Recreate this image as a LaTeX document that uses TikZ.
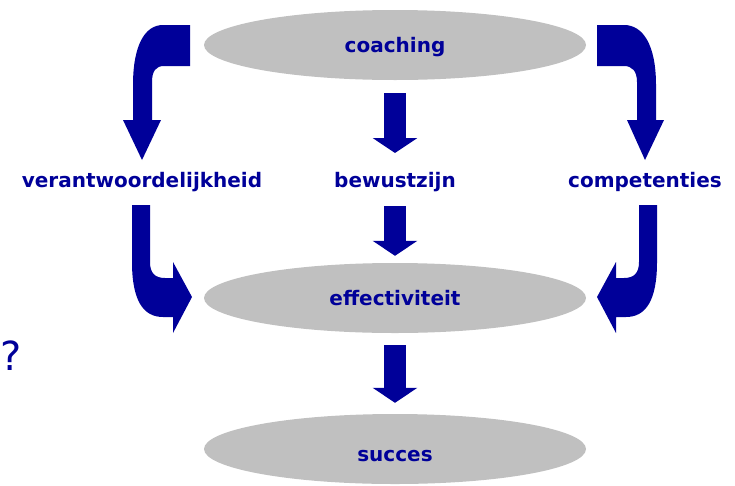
\documentclass[tikz,border=0pt]{standalone}
\usepackage{fontspec}
\setmainfont{DejaVu Sans}
\usetikzlibrary{arrows.meta,shapes.geometric}
\definecolor{navy}{RGB}{0,0,153}
\definecolor{ovalgray}{RGB}{192,192,192}

\begin{document}
\begin{tikzpicture}[
  x=1pt,y=-1pt,
  font=\fontsize{20}{24}\selectfont\bfseries,
  oval/.style={ellipse,fill=ovalgray,minimum width=382pt,minimum height=70pt,inner sep=0pt,text=navy,text height=14pt,text depth=0pt},
  lbl/.style={text=navy,inner sep=0pt,text height=14pt,text depth=0pt},
  blockarrow/.style={draw=navy,line width=22pt,-{Triangle[length=15pt,width=44pt]}},
  bentarrow/.style={fill=navy},
]
  \useasboundingbox (0,0) rectangle (735,485);

  \node[oval] (coach) at (395,45) {coaching};
  \node[oval] (eff) at (395,298) {effectiviteit};
  \node[oval] (succ) at (395,449) {\raisebox{-5pt}{succes}};

  \node[lbl] (verant) at (142,180) {verantwoordelijkheid};
  \node[lbl] (bew) at (395,180) {bewustzijn};
  \node[lbl] (comp) at (645,180) {competenties};

  \node[text=navy,inner sep=0pt,anchor=base west,font=\fontsize{40}{44}\selectfont] (q) at (0,370) {?};

  % straight arrows
  \draw[blockarrow] ([yshift=-13pt]coach.south) -- ([yshift=27pt]bew.center);
  \draw[blockarrow] ([yshift=-26pt]bew.center) -- ([yshift=7pt]eff.north);
  \draw[blockarrow] ([yshift=-12pt]eff.south) -- ([yshift=11pt]succ.north);

  % curved arrows
  \fill[bentarrow] (190,25) -- (163,25) .. controls (145,25) and (133,45) .. (133,85)
    -- (133,120) -- (123,120) -- (142,160) -- (161,120) -- (152,120) -- (152,82)
    .. controls (152,71) and (156,66) .. (164,66) -- (190,66) -- cycle;
  \fill[bentarrow] (597,25) -- (624,25) .. controls (643,25) and (656,45) .. (656,85)
    -- (656,120) -- (664,120) -- (645,160) -- (627,120) -- (637,120) -- (637,82)
    .. controls (637,71) and (632,66) .. (624,66) -- (597,66) -- cycle;
  \fill[bentarrow] (132,205) -- (150,205) -- (150,262) .. controls (150,273) and (155,278) .. (165,278)
    -- (173,278) -- (173,262) -- (192,297) -- (173,333) -- (173,317) -- (163,317)
    .. controls (143,317) and (132,300) .. (132,262) -- cycle;
  \fill[bentarrow] (657,205) -- (639,205) -- (639,262) .. controls (639,273) and (634,278) .. (624,278)
    -- (616,278) -- (616,262) -- (597,297) -- (616,333) -- (616,317) -- (626,317)
    .. controls (646,317) and (657,300) .. (657,262) -- cycle;
\end{tikzpicture}
\end{document}
